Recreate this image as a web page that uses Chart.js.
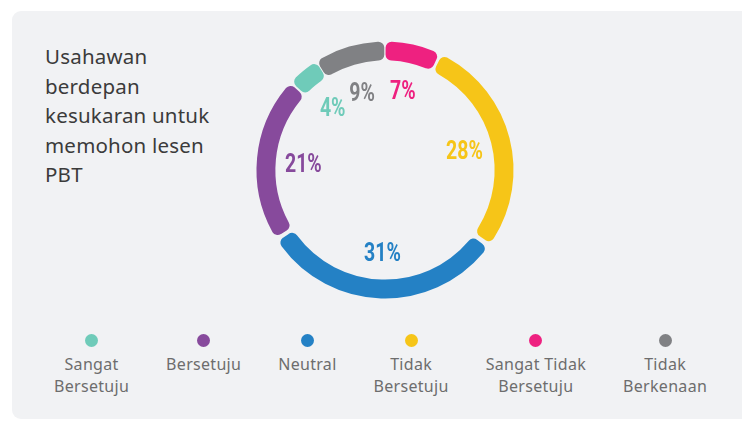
<!DOCTYPE html>
<html>
<head>
<meta charset="utf-8">
<script src="https://cdn.jsdelivr.net/npm/chart.js@4/dist/chart.umd.min.js"></script>
<style>
    html, body { margin: 0; padding: 0; background: #fff; }
    body { width: 742px; height: 421px; position: relative; overflow: hidden; font-family: 'Noto Sans', sans-serif; }
    .panel { position: absolute; left: 12px; top: 11px; width: 760px; height: 408px; background: #f1f2f4; border-radius: 9px; }
    .title { position: absolute; left: 45px; top: 42px; font-size: 20.5px; line-height: 29.5px; letter-spacing: 0.2px; color: #3b3b3b; }
    .chart-box { position: absolute; left: 235px; top: 20px; width: 300px; height: 300px; }
    .legend { position: absolute; left: 54px; top: 334px; display: flex; gap: 37px; }
    .legend-item { display: flex; flex-direction: column; align-items: center; text-align: center; font-size: 16px; line-height: 22px; letter-spacing: 0.3px; color: #6d6d6d; }
    .legend-dot { width: 13px; height: 13px; border-radius: 50%; margin-bottom: 6px; }
</style>
</head>
<body>
<div class="panel"></div>
<div class="title">Usahawan<br>berdepan<br>kesukaran untuk<br>memohon lesen<br>PBT</div>
<div class="chart-box"><canvas id="pbtChart" width="300" height="300"></canvas></div>
<div class="legend" id="pbtLegend"></div>

<script>
// legend order
const legendLabels = ['Sangat\nBersetuju', 'Bersetuju', 'Neutral', 'Tidak\nBersetuju', 'Sangat Tidak\nBersetuju', 'Tidak\nBerkenaan'];
const legendColors = ['#6fcbb9', '#874a9c', '#2481c5', '#f6c518', '#ee2180', '#808184'];

// ring order, clockwise from 12 o'clock
const ringLabels = ['Sangat Tidak Bersetuju', 'Tidak Bersetuju', 'Neutral', 'Bersetuju', 'Sangat Bersetuju', 'Tidak Berkenaan'];
const ringValues = [7, 28, 31, 21, 4, 9];
const ringColors = ['#ee2180', '#f6c518', '#2481c5', '#874a9c', '#6fcbb9', '#808184'];

function buildLegend() {
    const box = document.getElementById('pbtLegend');
    legendLabels.forEach(function (lbl, i) {
        const item = document.createElement('div');
        item.className = 'legend-item';
        const dot = document.createElement('div');
        dot.className = 'legend-dot';
        dot.style.background = legendColors[i];
        item.appendChild(dot);
        lbl.split('\n').forEach(function (line) {
            const t = document.createElement('div');
            t.textContent = line;
            item.appendChild(t);
        });
        box.appendChild(item);
    });
}

// percentage labels inside the ring (narrowed Roboto bold)
const pctLabels = {
    id: 'pctLabels',
    afterDatasetsDraw(chart) {
        const ctx = chart.ctx;
        const meta = chart.getDatasetMeta(0);
        meta.data.forEach(function (arc, i) {
            const p = arc.getProps(['x', 'y', 'startAngle', 'endAngle'], true);
            const mid = (p.startAngle + p.endAngle) / 2;
            const r = 82;
            const tx = p.x + Math.cos(mid) * r;
            const ty = p.y + Math.sin(mid) * r + 2;
            ctx.save();
            ctx.translate(tx, ty);
            ctx.scale(0.78, 1);
            ctx.font = "bold 25px Roboto, sans-serif";
            ctx.textAlign = 'center';
            ctx.textBaseline = 'middle';
            ctx.fillStyle = ringColors[i];
            ctx.fillText(ringValues[i] + '%', 0, 1);
            ctx.restore();
        });
    }
};

function initChart() {
    buildLegend();
    new Chart(document.getElementById('pbtChart').getContext('2d'), {
        type: 'doughnut',
        data: {
            labels: ringLabels,
            datasets: [{
                data: ringValues,
                backgroundColor: ringColors,
                borderWidth: 0,
                borderRadius: 6,
                spacing: 5
            }]
        },
        options: {
            responsive: false,
            animation: false,
            radius: 126,
            cutout: '85%',
            plugins: {
                legend: { display: false },
                tooltip: { enabled: false }
            }
        },
        plugins: [pctLabels]
    });
}

document.addEventListener('DOMContentLoaded', initChart);
</script>
</body>
</html>
